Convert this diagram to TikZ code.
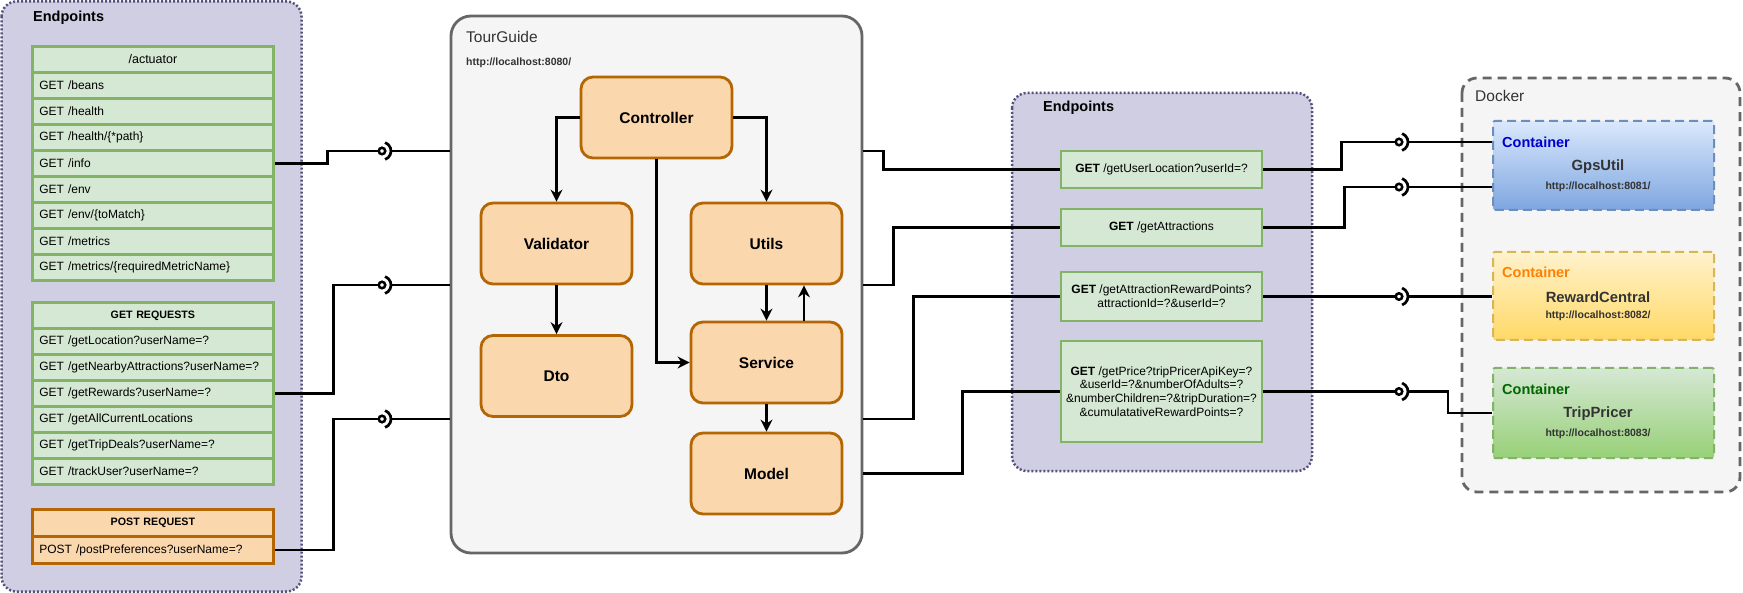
\documentclass[tikz,border=0pt]{standalone}
\usepackage{fontspec}
\setmainfont{Liberation Sans}
\usetikzlibrary{arrows.meta,calc}
\definecolor{panelfill}{HTML}{D0CEE2}
\definecolor{paneldraw}{HTML}{56517E}
\definecolor{grfill}{HTML}{D5E8D4}
\definecolor{grdraw}{HTML}{82B366}
\definecolor{orfill}{HTML}{FAD7AC}
\definecolor{ordraw}{HTML}{B46504}
\definecolor{gyfill}{HTML}{F5F5F5}
\definecolor{gydraw}{HTML}{666666}
\definecolor{txtgray}{HTML}{333333}
\definecolor{bltop}{HTML}{DAE8FC}
\definecolor{blbot}{HTML}{7EA6E0}
\definecolor{bldraw}{HTML}{6C8EBF}
\definecolor{yetop}{HTML}{FFF2CC}
\definecolor{yebot}{HTML}{FFD966}
\definecolor{yedraw}{HTML}{D6B656}
\definecolor{grtop}{HTML}{D5E8D4}
\definecolor{grbot}{HTML}{97D077}
\definecolor{cblue}{HTML}{0000CC}
\definecolor{corange}{HTML}{FF8000}
\definecolor{cgreen}{HTML}{006600}
\newcommand\fsz[2]{\fontsize{#1}{#2}\selectfont}
\begin{document}
\begin{tikzpicture}[x=1pt,y=-1pt,
  panel/.style={draw=paneldraw, fill=panelfill, line width=2.5pt, dash pattern=on 2pt off 2pt, rounded corners=15pt},
  tgbox/.style={draw=gydraw, fill=gyfill, line width=2.8pt, rounded corners=20pt, minimum width=411pt, minimum height=537pt},
  dockerbox/.style={draw=gydraw, fill=gyfill, line width=2.8pt, dash pattern=on 9pt off 6pt, rounded corners=15pt},
  row/.style={draw=grdraw, fill=grfill, line width=2.8pt, minimum width=241pt, minimum height=26pt, anchor=north west, text width=227pt, inner xsep=7pt, inner ysep=0pt, align=left, font=\fsz{12}{14}},
  rowhead/.style={row, align=center},
  orow/.style={row, draw=ordraw, fill=orfill},
  comp/.style={draw=ordraw, fill=orfill, line width=2.8pt, rounded corners=12pt, minimum width=151pt, minimum height=81pt, font=\fsz{15.5}{18}\bfseries},
  epbox/.style={draw=grdraw, fill=grfill, line width=2.8pt, minimum width=201pt, align=center, inner sep=0pt, font=\fsz{12}{13.6}},
  cont/.style={line width=2pt, dash pattern=on 9pt off 5pt, minimum width=221pt, rounded corners=2pt},
  title/.style={anchor=west, inner sep=0pt, font=\fsz{14.5}{17}\bfseries},
  gtitle/.style={anchor=west, inner sep=0pt, text=txtgray, font=\fsz{15.5}{18}},
  url/.style={inner sep=0pt, text=txtgray, font=\fsz{10.5}{12}\bfseries},
  ctitle/.style={anchor=west, inner sep=0pt, font=\fsz{14.5}{17}\bfseries},
  cname/.style={inner sep=0pt, text=txtgray, font=\fsz{14.8}{17}\bfseries},
  conn/.style={line width=2.7pt, black},
  arr/.style={conn, -{Stealth[length=12pt,width=12pt,inset=4pt]}},
  lolly/.style={circle, draw=black, fill=white, line width=2.5pt, minimum size=6.5pt, inner sep=0pt}]
\useasboundingbox (0,0) rectangle (1743,593);
\fill[white] (0,0) rectangle (1743,593);

% ---------- left endpoints panel ----------
\draw[panel] (1.5,1.5) rectangle (301.5,591.5);
\node[title] (lefttitle) at (33,18) {Endpoints};

\node[rowhead, font=\fsz{12.5}{14}] (act0) at (31,45) {/actuator};
\foreach \t [count=\i from 1] in {{GET /beans},{GET /health},{GET /health/\{*path\}},{GET /info},{GET /env},{GET /env/\{toMatch\}},{GET /metrics},{GET /metrics/\{requiredMetricName\}}}
  \node[row] (act\i) at (31,{45+26*\i}) {\t};

\node[rowhead, font=\fsz{10.7}{13}\bfseries] (get0) at (31,301) {GET REQUESTS};
\foreach \t [count=\i from 1] in {{GET /getLocation?userName=?},{GET /getNearbyAttractions?userName=?},{GET /getRewards?userName=?},{GET /getAllCurrentLocations},{GET /getTripDeals?userName=?},{GET /trackUser?userName=?}}
  \node[row] (get\i) at (31,{301+26*\i}) {\t};

\node[orow, align=center, minimum height=27pt, font=\fsz{10.7}{13}\bfseries] (post0) at (31,508) {POST REQUEST};
\node[orow, minimum height=27pt] (post1) at (31,535) {POST /postPreferences?userName=?};

% ---------- TourGuide ----------
\node[tgbox] (tg) at (656.5,284.5) {};
\node[gtitle] (tgtitle) at (466,36.5) {TourGuide};
\node[url, anchor=west] (tgurl) at (466,63) {http://localhost:8080/};

\node[comp] (ctrl) at (656.5,117.5) {Controller};
\node[comp] (val) at (556.5,243.5) {Validator};
\node[comp] (utils) at (766.5,243.5) {Utils};
\node[comp] (dto) at (556.5,376) {Dto};
\node[comp] (svc) at (766.5,362.5) {Service};
\node[comp] (model) at (766.5,473.5) {Model};

\draw[arr] (ctrl.west) -| (val.north);
\draw[arr] (ctrl.east) -| (utils.north);
\draw[arr] (ctrl.south) |- (svc.west);
\draw[arr] (val.south) -- (dto.north);
\draw[arr] (utils.south) -- (svc.north);
\draw[arr] ([xshift=37.5pt]svc.north) -- ([xshift=37.5pt]utils.south);
\draw[arr] (svc.south) -- (model.north);

% ---------- middle endpoints panel ----------
\draw[panel] (1012,93) rectangle (1312,471);
\node[title] (midtitle) at (1043,108) {Endpoints};
\node[epbox, minimum height=37pt] (ep1) at (1161.5,169.5) {\textbf{GET} /getUserLocation?userId=?};
\node[epbox, minimum height=37pt] (ep2) at (1161.5,227.5) {\textbf{GET} /getAttractions};
\node[epbox, minimum height=49pt] (ep3) at (1161.5,296.5) {\textbf{GET} /getAttractionRewardPoints?\\attractionId=?\&userId=?};
\node[epbox, minimum height=101pt] (ep4) at (1161.5,391.5) {\textbf{GET} /getPrice?tripPricerApiKey=?\\\&userId=?\&numberOfAdults=?\\\&numberChildren=?\&tripDuration=?\\\&cumulatativeRewardPoints=?};

% ---------- Docker ----------
\draw[dockerbox] (1462,78) rectangle (1740,492);
\node[gtitle] (dockertitle) at (1475,96) {Docker};

\node[cont, draw=bldraw, top color=bltop, bottom color=blbot, minimum height=89pt] (gps) at (1603.5,165.5) {};
\node[ctitle, text=cblue] (gpsc) at (1502,142) {Container};
\node[cname] (gpsn) at (1598,167) {GpsUtil};
\node[url] (gpsu) at (1598,187) {http://localhost:8081/};

\node[cont, draw=yedraw, top color=yetop, bottom color=yebot, minimum height=88pt] (rc) at (1603.5,296) {};
\node[ctitle, text=corange] (rcc) at (1502,272) {Container};
\node[cname] (rcn) at (1598,297) {RewardCentral};
\node[url] (rcu) at (1598,316) {http://localhost:8082/};

\node[cont, draw=grdraw, top color=grtop, bottom color=grbot, minimum height=90pt] (tp) at (1603.5,413) {};
\node[ctitle, text=cgreen] (tpc) at (1502,389) {Container};
\node[cname] (tpn) at (1598,414) {TripPricer};
\node[url] (tpu) at (1598,434) {http://localhost:8083/};

% ---------- interfaces (lollipops) ----------
\foreach \n/\p in {ifc1/{382,151}, ifc2/{382,285}, ifc3/{382,419}, ifc4/{1399,142}, ifc5/{1399,187}, ifc6/{1399,296.5}, ifc7/{1399,391.5}} {
  \node[lolly] (\n) at (\p) {};
  \draw[conn] (\n.center) ++(-70:9pt) arc[start angle=-70, end angle=70, radius=9pt];
  \coordinate (\n-r) at ([xshift=9pt]\n.center);
}

% ---------- connectors left ----------
\draw[conn] (act4.east) -- ++(53,0) |- (ifc1.west);
\draw[conn] (ifc1-r) -- (ifc1-r -| tg.west);
\draw[conn] (get3.east) -- ++(59,0) |- (ifc2.west);
\draw[conn] (ifc2-r) -- (ifc2-r -| tg.west);
\draw[conn] (post1.east) -- ++(59,0) |- (ifc3.west);
\draw[conn] (ifc3-r) -- (ifc3-r -| tg.west);

% ---------- connectors middle ----------
\draw[conn] (tg.east |- ifc1) -- ++(20,0) |- (ep1.west);
\draw[conn] (tg.east |- ifc2) -- ++(30,0) |- (ep2.west);
\draw[conn] (tg.east |- ifc3) -- ++(50,0) |- (ep3.west);
\draw[conn] (tg.east |- model) -- ++(99,0) |- (ep4.west);

% ---------- connectors right ----------
\draw[conn] (ep1.east) -- ++(78,0) |- (ifc4.west);
\draw[conn] (ifc4-r) -- (ifc4-r -| gps.west);
\draw[conn] (ep2.east) -- ++(81,0) |- (ifc5.west);
\draw[conn] (ifc5-r) -- (ifc5-r -| gps.west);
\draw[conn] (ep3.east) -- (ifc6.west);
\draw[conn] (ifc6-r) -- (ifc6-r -| rc.west);
\draw[conn] (ep4.east) -- (ifc7.west);
\draw[conn] (ifc7-r) -- ++(40,0) |- (tp.west);
\end{tikzpicture}
\end{document}
